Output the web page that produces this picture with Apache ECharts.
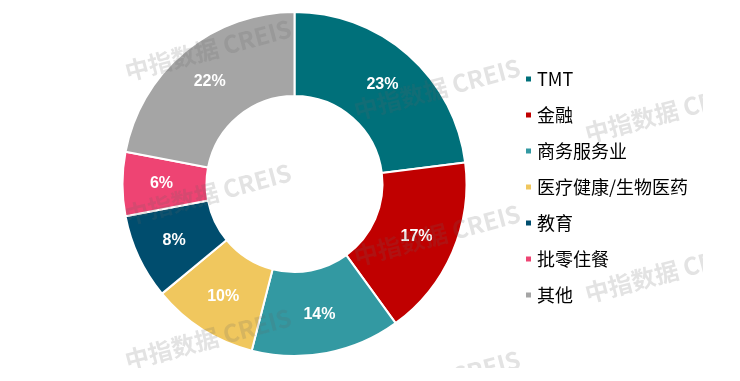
<!DOCTYPE html>
<html>
<head>
<meta charset="utf-8">
<script src="https://cdn.jsdelivr.net/npm/echarts@6/dist/echarts.min.js"></script>
<style>
html,body{margin:0;padding:0;background:#fff;}
#c{width:740px;height:381px;}
</style>
</head>
<body>
<div id="c"></div>
<script>
var categories = ['TMT', '金融', '商务服务业', '医疗健康/生物医药', '教育', '批零住餐', '其他'];
var shares = [23, 17, 14, 10, 8, 6, 22];
var colors = ['#00707A', '#C00000', '#3399A2', '#F0C75E', '#004D6E', '#EE4473', '#A5A5A5'];
var watermarkText = '中指数据 CREIS';
var watermarkSpots = [[208, 50], [208, 194], [208, 339], [437, 89], [437, 235], [437, 381], [668, 112], [668, 272]];

var chart = echarts.init(document.getElementById('c'));
var data = categories.map(function (n, i) {
  return { name: n, value: shares[i], itemStyle: { color: colors[i] } };
});
var graphics = watermarkSpots.map(function (p) {
  return {
    type: 'text', x: p[0], y: p[1], rotation: 15 * Math.PI / 180, z: 100, silent: true,
    style: {
      text: watermarkText, fill: 'rgba(100,100,100,0.18)',
      font: 'bold 24px "Noto Sans CJK SC", sans-serif',
      align: 'center', verticalAlign: 'middle'
    }
  };
});
graphics.push({ type: 'rect', z: 101, silent: true, shape: { x: 0, y: 368, width: 740, height: 20 }, style: { fill: '#fff' } });
graphics.push({ type: 'rect', z: 101, silent: true, shape: { x: 703, y: 0, width: 40, height: 381 }, style: { fill: '#fff' } });
chart.setOption({
  animation: false,
  legend: {
    orient: 'vertical', left: 519, top: 63,
    icon: 'rect', itemWidth: 7, itemHeight: 7, itemGap: 14,
    textStyle: { color: '#000', fontSize: 18, lineHeight: 22, fontFamily: '"Noto Sans CJK SC", sans-serif' },
    data: categories
  },
  graphic: graphics,
  series: [{
    type: 'pie',
    center: [294.5, 184],
    radius: [88, 172],
    startAngle: 90,
    clockwise: true,
    itemStyle: { borderColor: '#fff', borderWidth: 2 },
    emphasis: { disabled: true },
    label: {
      position: 'inside', color: '#fff', fontSize: 16, fontWeight: 'bold',
      fontFamily: '"Liberation Sans", Arial, sans-serif',
      formatter: function (p) { return p.value + '%'; }
    },
    labelLine: { show: false },
    data: data
  }]
});
</script>
</body>
</html>
